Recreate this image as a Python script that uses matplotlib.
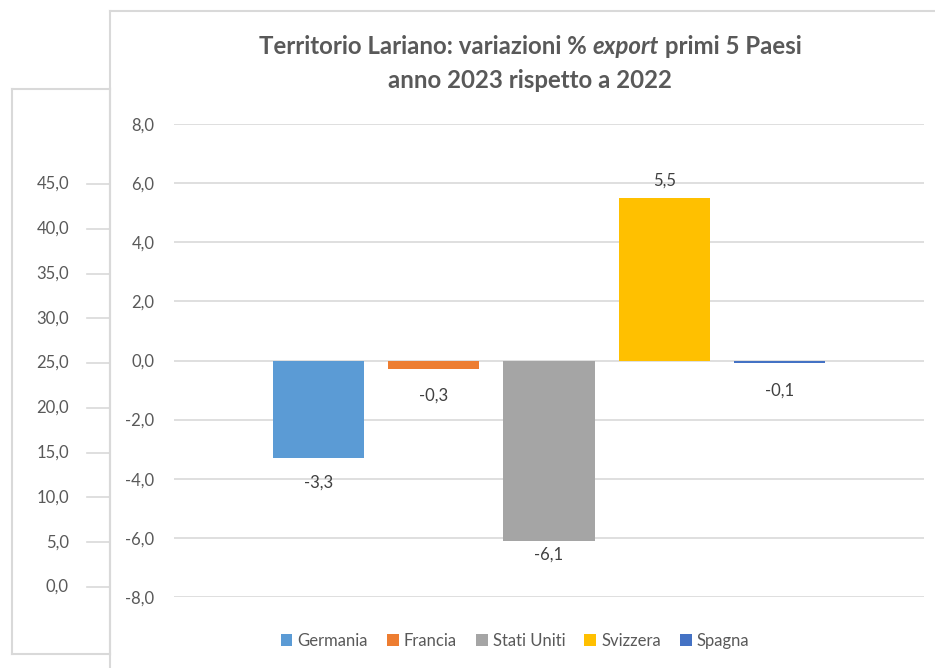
import matplotlib
matplotlib.use('Agg')
import matplotlib.pyplot as plt
import numpy as np

plt.rcParams['font.family'] = ['Lato', 'DejaVu Sans']

paesi = ['Germania', 'Francia', 'Stati Uniti', 'Svizzera', 'Spagna']
variazioni = [-3.3, -0.3, -6.1, 5.5, -0.1]
colori = ['#5B9BD5', '#ED7D31', '#A5A5A5', '#FFC000', '#4472C4']
yticks_main = [-8, -6, -4, -2, 0, 2, 4, 6, 8]
yticks_back = [0, 5, 10, 15, 20, 25, 30, 35, 40, 45]
label_pad = [12, 13.5, 4, 7, 14]

W, H = 935, 668
grey_txt = '#595959'
grey_line = '#D9D9D9'

def fmt(v):
    return f'{v:.1f}'.replace('.', ',')

fig = plt.figure(figsize=(W/100, H/100), dpi=100)

# chart behind (partly hidden)
axb = fig.add_axes([12/W, (H-654)/H, 98/W, (654-89)/H])
axb.set_xlim(0, 1)
axb.set_ylim(-(654-587)/8.956, 45 + (184-89)/8.956)
axb.set_xticks([]); axb.set_yticks([])
for s in axb.spines.values():
    s.set_color(grey_line); s.set_linewidth(1.5)
for t in yticks_back:
    axb.plot([(87-12)/98, 1], [t, t], color=grey_line, lw=1.2)
    axb.text((69-12)/98, t, fmt(t), ha='right', va='center', fontsize=12, color=grey_txt)

# main chart frame
axf = fig.add_axes([110/W, -0.05, 1.0, 1.05 - 11/H])
axf.set_xticks([]); axf.set_yticks([])
axf.patch.set_alpha(0)
for k, s in axf.spines.items():
    s.set_color(grey_line); s.set_linewidth(1.5)
    if k in ('right', 'bottom'):
        s.set_visible(False)

# main plot
ax = fig.add_axes([174/W, (H-597)/H, 750/W, 473/H])
x = np.arange(len(paesi))
bars = []
for i, (p, v, c) in enumerate(zip(paesi, variazioni, colori)):
    b = ax.bar(x[i], v, width=0.79, color=c, label=p, zorder=3)
    ax.bar_label(b, labels=[fmt(v)], padding=label_pad[i], fontsize=12, color='#404040')
    bars.append(b)
ax.set_xlim(-1.25, 5.25)
ax.set_ylim(-8, 8)
ax.set_yticks(yticks_main)
ax.set_yticklabels([fmt(t) for t in yticks_main], fontsize=12, color=grey_txt)
ax.set_xticks([])
ax.tick_params(axis='y', length=0, pad=14)
ax.grid(axis='y', color=grey_line, lw=1.2, zorder=0)
for s in ax.spines.values():
    s.set_visible(False)
ax.patch.set_alpha(0)

fig.legend(handles=bars, labels=paesi, loc='center', bbox_to_anchor=(515/W, (H-641)/H),
           ncol=5, frameon=False, fontsize=12, handlelength=0.7, handleheight=0.7,
           handletextpad=0.3, columnspacing=1.15, labelcolor=grey_txt)

# title with italic word
fig.canvas.draw()
r = fig.canvas.get_renderer()
parts = [('Territorio Lariano: variazioni % ', 'normal'), ('export', 'italic'), (' primi 5 Paesi', 'normal')]
txts = []
for s, st in parts:
    t = fig.text(0, 1 - 47/H, s, fontsize=17.3, fontweight='bold', style=st, color=grey_txt,
                 ha='left', va='center')
    txts.append(t)
widths = [t.get_window_extent(r).width for t in txts]
x0 = 530 - sum(widths)/2
for t, w in zip(txts, widths):
    t.set_x(x0/W)
    x0 += w
fig.text(530/W, 1 - 80/H, 'anno 2023 rispetto a 2022', fontsize=17.3, fontweight='bold',
         color=grey_txt, ha='center', va='center')

fig.savefig('out.png', dpi=100)
